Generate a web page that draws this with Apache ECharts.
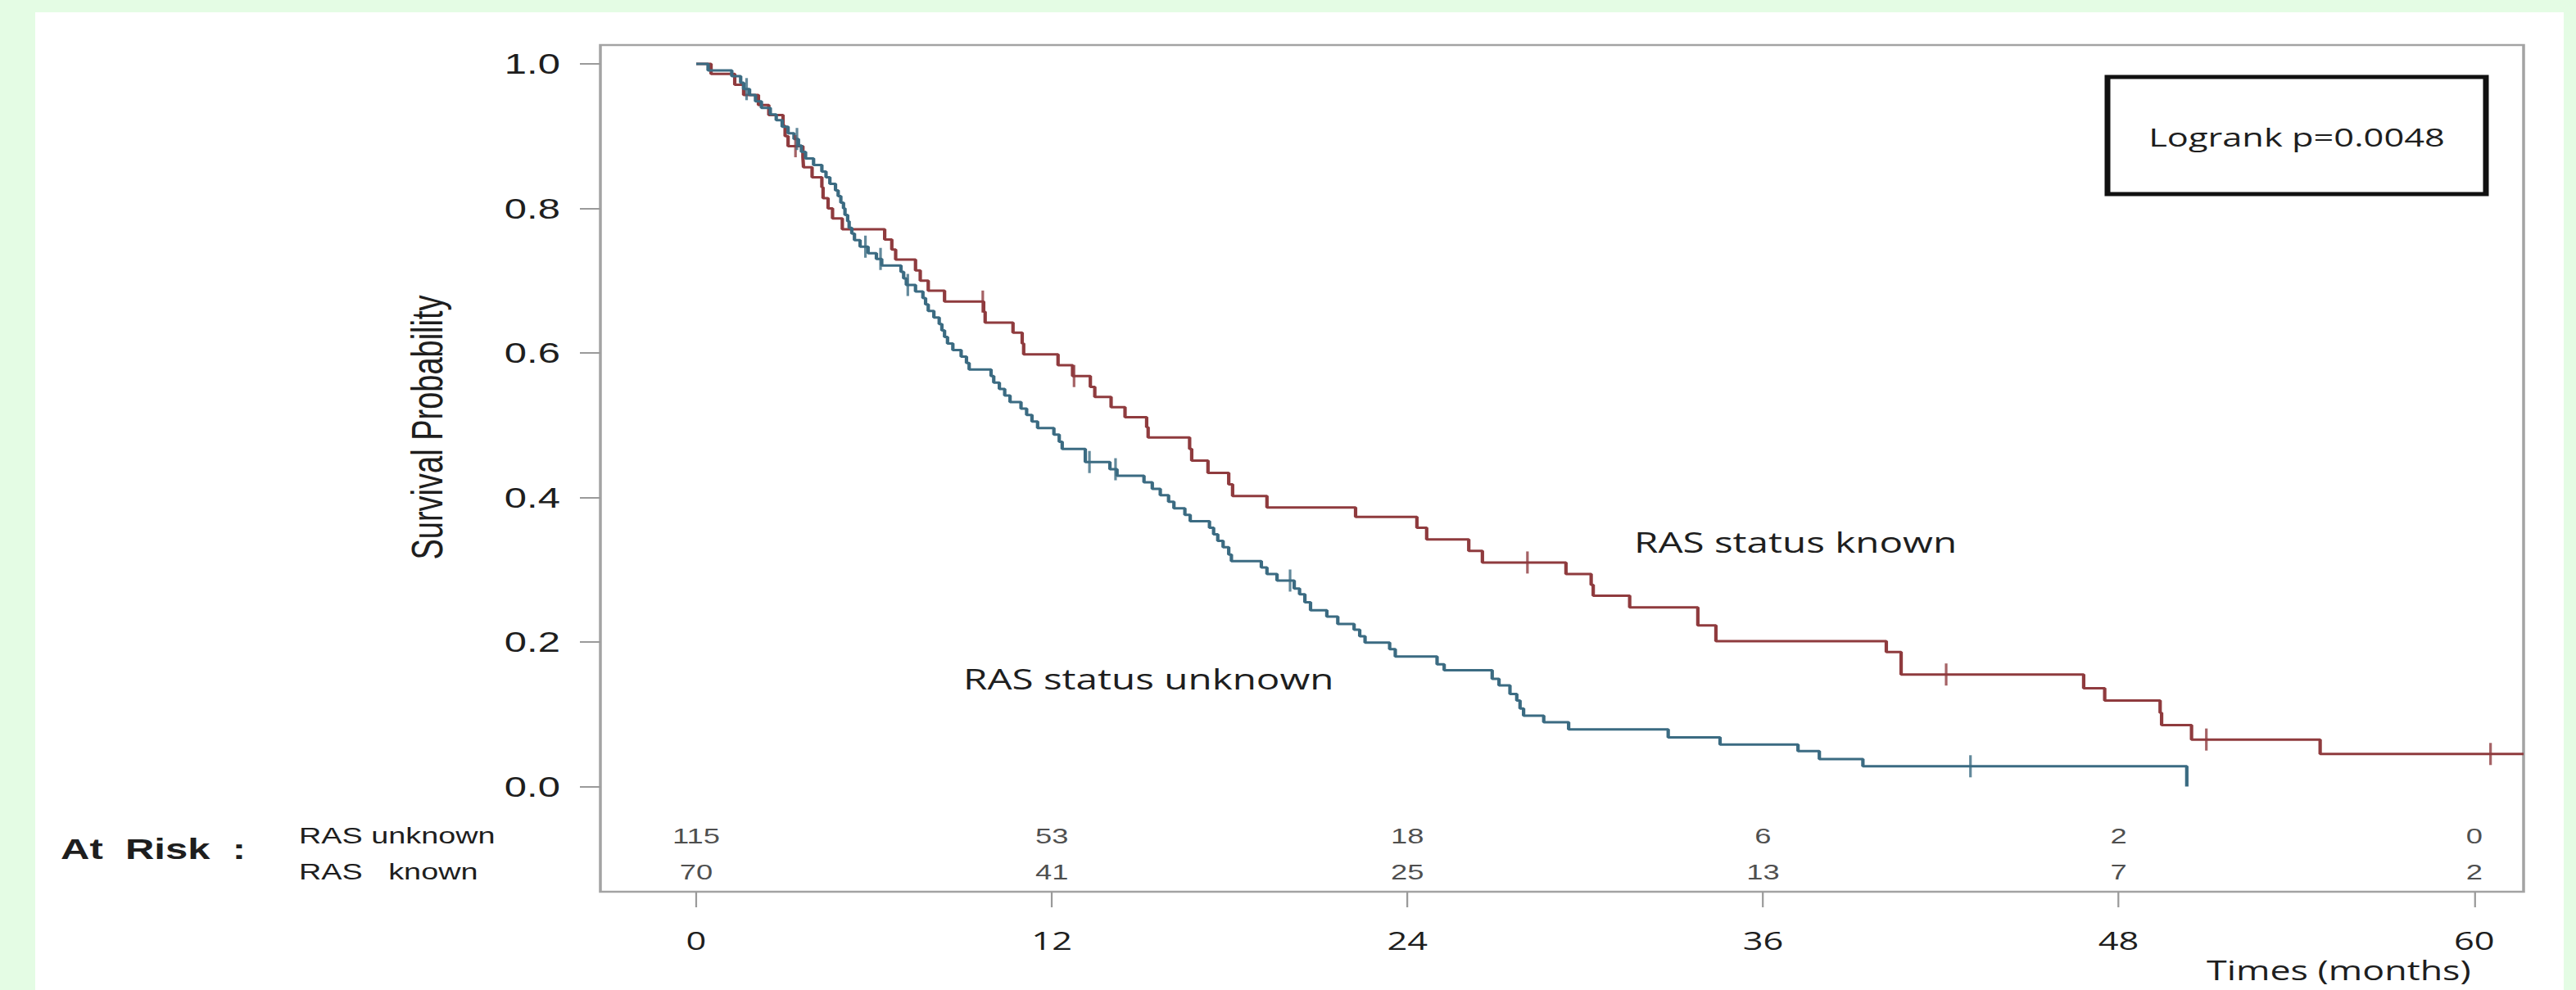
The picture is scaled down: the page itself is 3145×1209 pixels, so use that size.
<!DOCTYPE html>
<html><head><meta charset="utf-8">
<script src="https://cdn.jsdelivr.net/npm/echarts@6/dist/echarts.min.js"></script>
<style>
html,body{margin:0;padding:0;background:#e4fce4;width:3145px;height:1209px;overflow:hidden;}
#panel{position:absolute;left:43px;top:15px;width:3087px;height:1194px;background:#ffffff;}
#chart{position:absolute;left:0;top:0;width:2246px;height:1209px;transform:scaleX(1.400267);transform-origin:0 0;}
</style></head><body>
<div id="panel"></div><div id="chart"></div>
<script>
// ---------------- data ----------------
const xTicks = [0, 12, 24, 36, 48, 60];
const yTicks = [0, 0.2, 0.4, 0.6, 0.8, 1.0];

// RAS status known (red) : event times (months) and survival after each step
const knownTimes = [0, 0.5, 1.3, 1.6, 2.1, 2.45, 2.93, 3.0, 3.1, 3.6, 3.62, 3.91, 4.24, 4.28, 4.45, 4.6, 4.93,
  6.36, 6.6, 6.73, 7.4, 7.56, 7.83, 8.38, 9.7, 9.75, 10.69, 11.0, 11.05, 12.21, 12.7, 13.3, 13.45, 14.0, 14.47,
  15.2, 15.25, 16.65, 16.72, 17.27, 17.97, 18.1, 19.26, 22.25, 24.32, 24.65, 26.07, 26.53, 29.35, 30.2, 30.27,
  31.5, 33.8, 34.41, 40.16, 40.66, 46.82, 47.53, 49.4, 49.45, 50.46, 54.8, 61.665];
const knownSurv = [1.0, 0.986, 0.971, 0.957, 0.943, 0.929, 0.914, 0.900, 0.886, 0.871, 0.857, 0.843, 0.829, 0.814, 0.800, 0.786, 0.771,
  0.757, 0.743, 0.729, 0.714, 0.700, 0.686, 0.671, 0.657, 0.642, 0.628, 0.613, 0.598, 0.583, 0.568, 0.553, 0.539, 0.525, 0.511,
  0.497, 0.483, 0.467, 0.451, 0.434, 0.418, 0.402, 0.386, 0.373, 0.358, 0.342, 0.326, 0.310, 0.294, 0.279, 0.264,
  0.248, 0.223, 0.201, 0.186, 0.155, 0.136, 0.119, 0.102, 0.085, 0.065, 0.045, 0.045];
const knownCensor = [3.35, 9.67, 12.75, 28.05, 42.18, 50.96, 60.55];

// RAS status unknown (blue)
const unknownTimes = [0, 0.4, 1.2, 1.5, 1.6, 1.8, 2.0, 2.2, 2.5, 2.7, 2.9, 3.1, 3.3, 3.45, 3.55, 3.69, 3.96, 4.24, 4.38,
  4.51, 4.70, 4.79, 4.88, 4.97, 5.02, 5.11, 5.16, 5.25, 5.34, 5.53, 5.80, 6.08, 6.26, 6.91, 7.00, 7.09, 7.40, 7.65,
  7.74, 7.83, 8.02, 8.20, 8.29, 8.38, 8.48, 8.66, 8.94, 9.12, 9.21, 9.95, 10.04, 10.23, 10.41, 10.59, 10.96, 11.15,
  11.33, 11.52, 12.07, 12.25, 12.35, 13.13, 13.96, 14.2, 15.11, 15.39, 15.66, 15.94, 16.12, 16.49, 16.67, 17.32,
  17.46, 17.60, 17.78, 17.97, 18.06, 19.07, 19.26, 19.6, 20.18, 20.36, 20.54, 20.73, 21.28, 21.65, 22.2, 22.39,
  22.57, 23.4, 23.59, 25.0, 25.24, 26.86, 27.09, 27.46, 27.69, 27.8, 27.92, 28.6, 29.44, 32.8, 34.55, 37.18, 37.9,
  39.37, 50.3];
const unknownSurv = [1.0, 0.991, 0.983, 0.974, 0.965, 0.957, 0.948, 0.939, 0.930, 0.922, 0.913, 0.904, 0.896, 0.887, 0.878, 0.869, 0.860, 0.851, 0.843,
  0.834, 0.825, 0.817, 0.808, 0.800, 0.791, 0.782, 0.773, 0.765, 0.756, 0.747, 0.738, 0.730, 0.721, 0.712, 0.703, 0.694, 0.685, 0.676,
  0.667, 0.658, 0.649, 0.640, 0.631, 0.622, 0.613, 0.604, 0.595, 0.586, 0.577, 0.568, 0.559, 0.550, 0.541, 0.532, 0.523, 0.514,
  0.505, 0.496, 0.487, 0.477, 0.467, 0.449, 0.439, 0.430, 0.421, 0.412, 0.403, 0.394, 0.385, 0.376, 0.367, 0.358,
  0.349, 0.340, 0.331, 0.321, 0.312, 0.303, 0.294, 0.285, 0.274, 0.266, 0.255, 0.244, 0.235, 0.225, 0.217, 0.208,
  0.199, 0.190, 0.180, 0.169, 0.161, 0.149, 0.140, 0.128, 0.119, 0.108, 0.098, 0.089, 0.079, 0.068, 0.058, 0.049, 0.038,
  0.028, 0.0];
const unknownCensor = [1.7, 3.4, 5.71, 6.22, 7.14, 13.27, 14.15, 20.04, 43.0];

// numbers at risk
const atRiskTimes = [0, 12, 24, 36, 48, 60];
const atRiskUnknown = [115, 53, 18, 6, 2, 0];
const atRiskKnown = [70, 41, 25, 13, 7, 2];

// ---------------- layout ----------------
const K = 3145 / 2246;            // horizontal stretch of the page
const X = px => px / K;           // page px -> chart px (x only)
const RED = '#8f3b3e', BLUE = '#3b6b82', TXT = '#1e1e1e';
const Y0 = 960.5, PXU = 882.5;     // pixel of y=0 and px per unit
const yAt = px => (Y0 - px) / PXU;

function levelAt(times, surv, t) {
  let v = surv[0];
  for (let i = 0; i < times.length; i++) if (times[i] <= t) v = surv[i];
  return v;
}
const pairs = (ts, vs) => ts.map((t, i) => [t, vs[i]]);

const chart = echarts.init(document.getElementById('chart'), null, {renderer: 'svg'});
const censorSym = {type: 'scatter', symbol: 'rect', symbolSize: [X(3.2), 27], silent: true, z: 4};
const riskLabel = {show: true, position: 'inside', formatter: p => String(p.value[2]),
  fontFamily: 'Liberation Sans, Arial, sans-serif', fontSize: 26, color: TXT};

chart.setOption({
  animation: false,
  grid: {left: X(733), top: 55, width: X(3081) - X(733), height: 1034, show: true,
    borderColor: '#a3a3a3', borderWidth: 2.5, backgroundColor: 'transparent'},
  xAxis: {type: 'value', min: -3.234, max: 61.665, position: 'bottom',
    axisLine: {show: false, onZero: false}, splitLine: {show: false},
    axisTick: {show: true, customValues: xTicks, length: 19, lineStyle: {color: '#9a9a9a', width: 1.6}},
    axisLabel: {show: true, customValues: xTicks, margin: 44, fontFamily: 'Open Sans', fontSize: 31, color: TXT}},
  yAxis: {type: 'value', min: -0.1456, max: 1.026, position: 'left',
    axisLine: {show: false, onZero: false}, splitLine: {show: false},
    axisTick: {show: true, customValues: yTicks, length: X(25), lineStyle: {color: '#9a9a9a', width: 2}},
    axisLabel: {show: true, customValues: yTicks, margin: X(49), formatter: v => v.toFixed(1),
      fontFamily: 'Liberation Sans, Arial, sans-serif', fontSize: 35, color: TXT}},
  series: [
    {type: 'line', name: 'RAS status known', step: 'end', data: pairs(knownTimes, knownSurv), showSymbol: false,
      lineStyle: {color: RED, width: 3}, silent: true, z: 3},
    {type: 'line', name: 'RAS status unknown', step: 'end', data: pairs(unknownTimes, unknownSurv), showSymbol: false,
      lineStyle: {color: BLUE, width: 3}, silent: true, z: 3},
    Object.assign({}, censorSym, {itemStyle: {color: RED},
      data: knownCensor.map(t => [t, levelAt(knownTimes, knownSurv, t)])}),
    Object.assign({}, censorSym, {itemStyle: {color: BLUE},
      data: unknownCensor.map(t => [t, levelAt(unknownTimes, unknownSurv, t)])}),
    {type: 'scatter', symbolSize: 1, itemStyle: {color: 'rgba(0,0,0,0)'}, silent: true, label: riskLabel,
      data: atRiskTimes.map((t, i) => [t, yAt(1021), atRiskUnknown[i]])},
    {type: 'scatter', symbolSize: 1, itemStyle: {color: 'rgba(0,0,0,0)'}, silent: true, label: riskLabel,
      data: atRiskTimes.map((t, i) => [t, yAt(1065), atRiskKnown[i]])}
  ],
  graphic: [
    {type: 'text', x: X(522), y: 522, rotation: Math.PI / 2, silent: true,
      style: {text: 'Survival Probability', fontFamily: 'Liberation Sans, Arial, sans-serif', fontSize: 38,
        fill: TXT, align: 'center', verticalAlign: 'middle'}},
    {type: 'text', x: X(74), y: 1037, silent: true,
      style: {text: 'At  Risk  :', fontFamily: 'Liberation Sans, Arial, sans-serif', fontWeight: 'bold', fontSize: 35,
        fill: TXT, align: 'left', verticalAlign: 'middle'}},
    {type: 'text', x: X(365), y: 1021, silent: true,
      style: {text: 'RAS unknown', fontFamily: 'Liberation Sans, Arial, sans-serif', fontSize: 27,
        fill: TXT, align: 'left', verticalAlign: 'middle'}},
    {type: 'text', x: X(365), y: 1065, silent: true,
      style: {text: 'RAS   known', fontFamily: 'Liberation Sans, Arial, sans-serif', fontSize: 27,
        fill: TXT, align: 'left', verticalAlign: 'middle'}},
    {type: 'text', x: X(1176), y: 829, silent: true,
      style: {text: 'RAS status unknown', fontFamily: 'Open Sans', fontSize: 34,
        fill: TXT, align: 'left', verticalAlign: 'middle'}},
    {type: 'text', x: X(1995), y: 662, silent: true,
      style: {text: 'RAS status known', fontFamily: 'Open Sans', fontSize: 34,
        fill: TXT, align: 'left', verticalAlign: 'middle'}},
    {type: 'rect', silent: true, shape: {x: X(2573), y: 94, width: X(3035) - X(2573), height: 143},
      style: {fill: '#ffffff', stroke: '#111111', lineWidth: 5}},
    {type: 'text', x: X(2804), y: 167, silent: true,
      style: {text: 'Logrank p=0.0048', fontFamily: 'Open Sans', fontSize: 31,
        fill: TXT, align: 'center', verticalAlign: 'middle'}},
    {type: 'text', x: X(2694), y: 1184, silent: true,
      style: {text: 'Times (months)', fontFamily: 'Open Sans', fontSize: 32,
        fill: TXT, align: 'left', verticalAlign: 'middle'}}
  ]
});
</script></body></html>
